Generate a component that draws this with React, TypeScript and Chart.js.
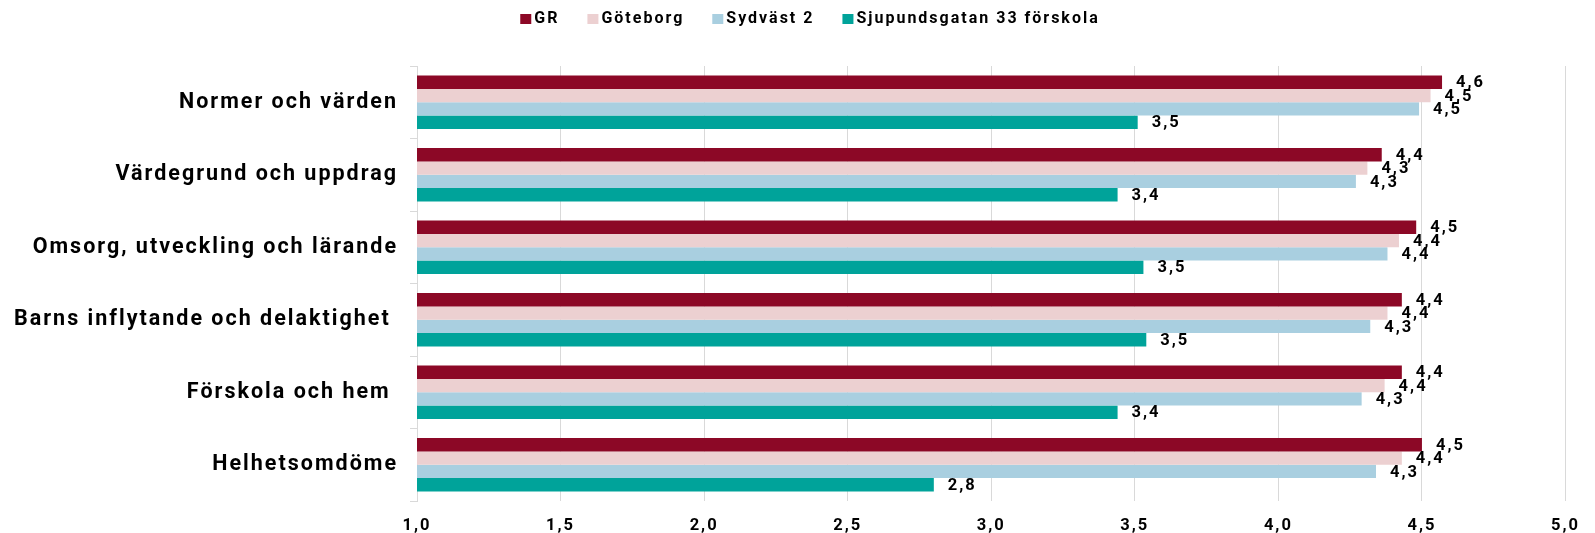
import React, { useEffect, useRef } from "react";
import { Chart, registerables } from "chart.js";

Chart.register(...registerables);

const categories = [
  "Normer och värden",
  "Värdegrund och uppdrag",
  "Omsorg, utveckling och lärande",
  "Barns inflytande och delaktighet ",
  "Förskola och hem ",
  "Helhetsomdöme",
];
const seriesNames = ["GR", "Göteborg", "Sydväst 2", "Sjupundsgatan 33 förskola"];
const seriesColors = ["#8C0826", "#ECD0D1", "#A9CFE0", "#00A39A"];
const grValues = [4.57, 4.36, 4.48, 4.43, 4.43, 4.5];
const goteborgValues = [4.53, 4.31, 4.42, 4.38, 4.37, 4.43];
const sydvastValues = [4.49, 4.27, 4.38, 4.32, 4.29, 4.34];
const sjupundsValues = [3.51, 3.44, 3.53, 3.54, 3.44, 2.8];
const xMin = 1;
const xMax = 5;
const xStep = 0.5;

const FONT_FAMILY = "Roboto";

const fmt = (v: number) => v.toFixed(1).replace(".", ",");

const spacingPlugin = {
  id: "spacing",
  beforeUpdate(chart: any) {
    chart.ctx.letterSpacing = "2px";
  },
  beforeDraw(chart: any) {
    chart.ctx.letterSpacing = "2px";
  },
};

const labelPlugin = {
  id: "valueLabels",
  afterDatasetsDraw(chart: any) {
    const ctx = chart.ctx;
    ctx.save();
    ctx.letterSpacing = "2px";
    ctx.font = `bold 16.5px ${FONT_FAMILY}`;
    ctx.fillStyle = "#000";
    ctx.textAlign = "left";
    ctx.textBaseline = "middle";
    chart.data.datasets.forEach((ds: any, i: number) => {
      const meta = chart.getDatasetMeta(i);
      meta.data.forEach((el: any, j: number) => {
        ctx.fillText(fmt(ds.data[j]), el.x + 14, el.y + 1);
      });
    });
    ctx.restore();
  },
};

const legendPlugin = {
  id: "customLegend",
  afterDraw(chart: any) {
    const ctx = chart.ctx;
    ctx.save();
    ctx.letterSpacing = "2px";
    ctx.font = `bold 16px ${FONT_FAMILY}`;
    ctx.textBaseline = "middle";
    ctx.textAlign = "left";
    const box = 11;
    const gap = 3;
    const itemGap = 28;
    const widths = seriesNames.map((n) => ctx.measureText(n).width);
    const total =
      widths.reduce((a, b) => a + b, 0) + seriesNames.length * (box + gap) + (seriesNames.length - 1) * itemGap;
    let x = 810 - total / 2;
    const y = 19;
    seriesNames.forEach((n, i) => {
      ctx.fillStyle = seriesColors[i];
      ctx.fillRect(x, y - 5, box, 10);
      x += box + gap;
      ctx.fillStyle = "#000";
      ctx.fillText(n, x, y);
      x += widths[i] + itemGap;
    });
    ctx.restore();
  },
};

export default function App() {
  const ref = useRef<HTMLCanvasElement>(null);
  useEffect(() => {
    if (!ref.current) return;
    const allValues = [grValues, goteborgValues, sydvastValues, sjupundsValues];
    const chart = new Chart(ref.current, {
      type: "bar",
      data: {
        labels: categories,
        datasets: seriesNames.map((name, i) => ({
          label: name,
          data: allValues[i],
          backgroundColor: seriesColors[i],
          borderWidth: 0,
          categoryPercentage: 0.735,
          barPercentage: 1,
        })),
      },
      options: {
        indexAxis: "y",
        animation: false,
        responsive: true,
        maintainAspectRatio: false,
        layout: { padding: { top: 66, right: 4, left: 0, bottom: 0 } },
        plugins: {
          legend: { display: false },
          tooltip: { enabled: false },
        },
        scales: {
          x: {
            type: "linear",
            min: xMin,
            max: xMax,
            ticks: {
              stepSize: xStep,
              callback: (v: any) => fmt(Number(v)),
              color: "#000",
              font: { family: FONT_FAMILY, size: 16.5, weight: "bold" },
              padding: 15,
            },
            grid: { color: "#d9d9d9", drawTicks: false, lineWidth: 1 },
            border: { display: false },
            afterFit: (s: any) => {
              s.height = 32;
            },
          },
          y: {
            type: "category",
            ticks: {
              color: "#000",
              font: { family: FONT_FAMILY, size: 21.5, weight: "bold" },
              padding: 12,
            },
            grid: {
              offset: true,
              drawOnChartArea: false,
              drawTicks: true,
              tickLength: 7,
              color: "#d9d9d9",
            },
            border: { display: true, color: "#d9d9d9" },
            afterFit: (s: any) => {
              s.width = 417;
            },
          },
        },
      },
      plugins: [spacingPlugin, labelPlugin, legendPlugin],
    });
    return () => chart.destroy();
  }, []);
  return (
    <div style={{ position: "fixed", left: 0, top: 0, width: "1595px", height: "533px", background: "#fff" }}>
      <canvas ref={ref} />
    </div>
  );
}
